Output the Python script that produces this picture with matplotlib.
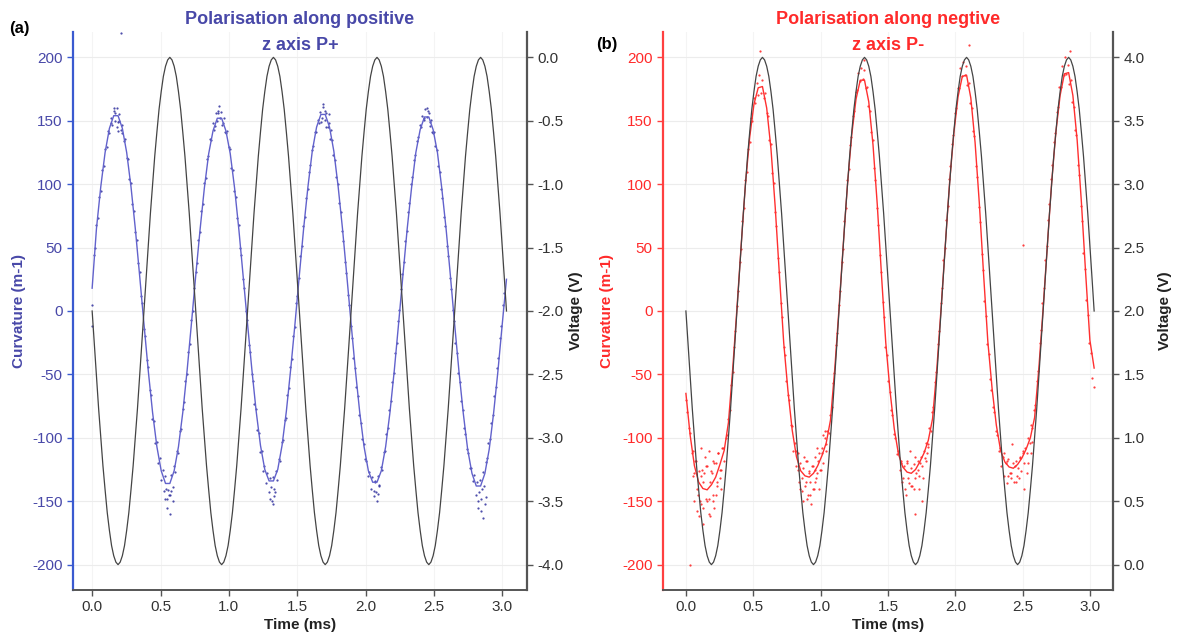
import numpy as np
import matplotlib
matplotlib.use("Agg")
import matplotlib.pyplot as plt

plt.rcParams['font.family'] = ['Liberation Sans', 'DejaVu Sans']
plt.rcParams['axes.unicode_minus'] = False

# ---------------- data ----------------
# sample times of the smooth lines (ms)
LINE_T = np.linspace(0.0, 3.03, 97)
VOLT_T = np.linspace(0.0, 3.03, 193)
DOT_T = np.linspace(0.0, 3.0135, 288)

# (a) voltage (V), black line
volt_a = [
 -2.00,-2.26,-2.52,-2.77,-3.00,-3.22,-3.41,-3.59,-3.73,-3.85,-3.93,-3.98,-4.00,-3.98,-3.93,-3.85,-3.73,-3.59,-3.41,-3.22,-3.00,-2.77,-2.52,-2.26,
 -2.00,-1.74,-1.48,-1.23,-1.00,-0.78,-0.59,-0.41,-0.27,-0.15,-0.07,-0.02,0.00,-0.02,-0.07,-0.15,-0.27,-0.41,-0.59,-0.78,-1.00,-1.23,-1.48,-1.74,
 -2.00,-2.26,-2.52,-2.77,-3.00,-3.22,-3.41,-3.59,-3.73,-3.85,-3.93,-3.98,-4.00,-3.98,-3.93,-3.85,-3.73,-3.59,-3.41,-3.22,-3.00,-2.77,-2.52,-2.26,
 -2.00,-1.74,-1.48,-1.23,-1.00,-0.78,-0.59,-0.41,-0.27,-0.15,-0.07,-0.02,0.00,-0.02,-0.07,-0.15,-0.27,-0.41,-0.59,-0.78,-1.00,-1.23,-1.48,-1.74,
 -2.00,-2.26,-2.52,-2.77,-3.00,-3.22,-3.41,-3.59,-3.73,-3.85,-3.93,-3.98,-4.00,-3.98,-3.93,-3.85,-3.73,-3.59,-3.41,-3.22,-3.00,-2.77,-2.52,-2.26,
 -2.00,-1.74,-1.48,-1.23,-1.00,-0.78,-0.59,-0.41,-0.27,-0.15,-0.07,-0.02,0.00,-0.02,-0.07,-0.15,-0.27,-0.41,-0.59,-0.78,-1.00,-1.23,-1.48,-1.74,
 -2.00,-2.26,-2.52,-2.77,-3.00,-3.22,-3.41,-3.59,-3.73,-3.85,-3.93,-3.98,-4.00,-3.98,-3.93,-3.85,-3.73,-3.59,-3.41,-3.22,-3.00,-2.77,-2.52,-2.26,
 -2.00,-1.74,-1.48,-1.23,-1.00,-0.78,-0.59,-0.41,-0.27,-0.15,-0.07,-0.02,0.00,-0.02,-0.07,-0.15,-0.27,-0.41,-0.59,-0.78,-1.00,-1.23,-1.48,-1.74,
 -2.00]

# (b) voltage (V), black line
volt_b = [
 2.00,1.74,1.48,1.23,1.00,0.78,0.59,0.41,0.27,0.15,0.07,0.02,0.00,0.02,0.07,0.15,0.27,0.41,0.59,0.78,1.00,1.23,1.48,1.74,
 2.00,2.26,2.52,2.77,3.00,3.22,3.41,3.59,3.73,3.85,3.93,3.98,4.00,3.98,3.93,3.85,3.73,3.59,3.41,3.22,3.00,2.77,2.52,2.26,
 2.00,1.74,1.48,1.23,1.00,0.78,0.59,0.41,0.27,0.15,0.07,0.02,0.00,0.02,0.07,0.15,0.27,0.41,0.59,0.78,1.00,1.23,1.48,1.74,
 2.00,2.26,2.52,2.77,3.00,3.22,3.41,3.59,3.73,3.85,3.93,3.98,4.00,3.98,3.93,3.85,3.73,3.59,3.41,3.22,3.00,2.77,2.52,2.26,
 2.00,1.74,1.48,1.23,1.00,0.78,0.59,0.41,0.27,0.15,0.07,0.02,0.00,0.02,0.07,0.15,0.27,0.41,0.59,0.78,1.00,1.23,1.48,1.74,
 2.00,2.26,2.52,2.77,3.00,3.22,3.41,3.59,3.73,3.85,3.93,3.98,4.00,3.98,3.93,3.85,3.73,3.59,3.41,3.22,3.00,2.77,2.52,2.26,
 2.00,1.74,1.48,1.23,1.00,0.78,0.59,0.41,0.27,0.15,0.07,0.02,0.00,0.02,0.07,0.15,0.27,0.41,0.59,0.78,1.00,1.23,1.48,1.74,
 2.00,2.26,2.52,2.77,3.00,3.22,3.41,3.59,3.73,3.85,3.93,3.98,4.00,3.98,3.93,3.85,3.73,3.59,3.41,3.22,3.00,2.77,2.52,2.26,
 2.00]

# (a) curvature fit line (m-1)
curv_a_line = [
 18,65,98,125,144,154,154,144,125,98,65,28,-10,-47,-80,-107,-126,-136,-136,-126,-107,-80,-47,-10,
 28,64,97,124,142,152,152,142,124,97,64,27,-10,-46,-79,-106,-125,-134,-134,-125,-106,-79,-46,-10,
 28,65,98,126,145,155,155,145,126,98,65,28,-10,-47,-80,-107,-126,-135,-135,-126,-107,-80,-47,-10,
 28,65,97,125,143,153,153,143,125,97,65,28,-11,-48,-81,-109,-128,-138,-138,-128,-109,-81,-48,-11,
 25]

# (b) curvature fit line (m-1)
curv_b_line = [
 -65,-98,-122,-135,-140,-141,-137,-131,-121,-110,-88,-46,2,52,100,137,163,176,177,160,128,82,28,-25,
 -63,-94,-115,-126,-130,-131,-128,-122,-114,-104,-86,-46,2,52,100,139,167,182,182,165,131,84,28,-25,
 -63,-93,-113,-123,-127,-128,-125,-119,-112,-102,-85,-46,2,52,101,140,169,185,186,168,133,85,29,-24,
 -61,-90,-110,-119,-123,-124,-121,-116,-109,-100,-84,-45,2,52,101,141,170,187,188,170,135,86,30,-23,
 -45]

# (a) measured curvature points
curv_a_dots = [
 5,44,50,68,73,90,95,111,114,128,129,142,140,152,147,158,150,160,149,155,143,147,134,136,121,120,104,101,84,79,
 62,56,38,31,12,6,-14,-20,-39,-44,-62,-66,-85,-87,-104,-103,-120,-116,-133,-125,-142,-130,-148,-141,-145,-129,-139,-122,-127,-110,
 -112,-95,-93,-77,-72,-55,-50,-32,-26,-7,0,18,
 31,38,56,62,79,84,101,105,120,122,136,135,148,143,156,150,158,152,157,148,152,140,142,129,128,113,111,95,90,73,
 68,50,44,25,18,0,-7,-27,-32,-50,-55,-73,-77,-94,-96,-111,-110,-126,-122,-136,-128,-143,-132,-150,-131,-140,-126,-133,-117,-118,
 -103,-102,-86,-84,-66,-61,-44,-38,-20,-13,6,12,
 26,43,51,67,74,89,96,110,115,127,130,141,141,151,148,157,152,161,151,156,145,148,136,135,123,119,106,100,85,78,
 63,55,39,30,13,5,-12,-21,-37,-45,-60,-67,-82,-88,-101,-105,-117,-118,-130,-127,-140,-131,-146,-134,-143,-130,-137,-123,-125,-111,
 -110,-97,-92,-78,-71,-56,-49,-33,-25,-8,1,17,
 29,39,55,63,78,85,100,106,119,123,134,137,147,145,154,152,159,153,158,149,151,141,141,130,127,114,110,96,89,74,
 67,51,43,26,17,1,-8,-25,-33,-49,-56,-71,-78,-92,-97,-109,-112,-124,-124,-134,-129,-145,-135,-155,-133,-148,-127,-138,-119,-116,
 -104,-101,-88,-82,-67,-60,-45,-37,-21,-12,5,14]

extra_a_t = [0.0, 0.53, 0.55, 0.57, 0.59, 0.56, 1.30, 1.32, 1.34, 2.06, 2.08, 2.10, 2.82, 2.84, 2.86, 2.88, 2.85,
             0.16, 0.18, 0.20, 0.93, 0.95, 1.69, 1.71, 1.73, 2.45, 2.47, 0.21,
             0.14, 0.17, 0.19, 0.22, 0.90, 0.92, 0.97, 1.67, 1.70, 1.75, 2.43, 2.46, 2.49,
             0.54, 0.58, 1.31, 1.33, 2.07, 2.09, 2.83, 2.87]
extra_a_v = [-12, -148, -155, -160, -150, -145, -148, -152, -143, -142, -150, -138, -150, -158, -163, -147, -140,
             160, 145, 150, 162, 147, 163, 145, 155, 160, 146, 219,
             148, 156, 142, 140, 146, 156, 141, 149, 158, 143, 151, 156, 140,
             -140, -142, -139, -146, -135, -144, -143, -152]

# (b) measured curvature points
curv_b_dots = [
 -70,-80,-92,-96,-112,-110,-128,-118,-140,-126,-150,-130,-155,-128,-148,-122,-160,-135,-126,-150,-120,-145,-138,-112,-132,-125,-108,-118,-100,-98,
 -85,-78,-58,-48,-28,-16,4,16,39,49,71,81,103,110,128,133,152,150,168,164,180,170,186,172,182,168,172,156,154,135,
 132,109,101,78,67,42,31,6,-5,-28,-35,-55,
 -66,-70,-90,-91,-110,-104,-122,-112,-135,-120,-142,-124,-138,-118,-145,-126,-135,-122,-140,-115,-132,-128,-112,-125,-108,-120,-100,-110,-95,-96,
 -82,-76,-57,-49,-27,-17,5,16,39,49,71,81,103,112,131,137,154,158,173,174,188,181,192,183,190,176,177,162,158,141,
 135,113,103,81,68,44,31,7,-5,-28,-35,-55,
 -64,-78,-82,-97,-100,-113,-110,-125,-118,-135,-122,-140,-120,-132,-136,-124,-138,-121,-132,-128,-118,-130,-115,-122,-110,-116,-104,-107,-92,-95,
 -80,-76,-56,-48,-26,-16,6,18,40,50,72,83,104,114,132,139,156,160,176,176,192,185,196,186,193,178,180,164,160,142,
 138,114,106,82,70,45,32,8,-4,-26,-34,-54,
 -62,-76,-80,-95,-98,-110,-108,-122,-115,-130,-120,-136,-117,-128,-132,-120,-135,-118,-130,-124,-116,-126,-112,-120,-108,-112,-100,-104,-90,-92,
 -78,-74,-55,-47,-25,-15,6,18,40,51,72,84,104,115,133,140,157,161,177,177,193,186,200,187,194,179,182,165,161,143,
 139,115,107,83,71,46,33,9,-3,-25,-33,-53]

extra_b_t = [0.03, 0.06, 0.08, 0.10, 0.12, 0.14, 0.16, 0.18, 0.20, 0.22, 0.24, 0.26, 0.13,
             0.82, 0.85, 0.87, 0.90, 0.92, 0.95, 0.97, 1.00, 1.02, 1.04, 0.93,
             1.60, 1.63, 1.66, 1.69, 1.72, 1.75, 1.78, 1.80, 1.70,
             2.36, 2.39, 2.42, 2.45, 2.48, 2.51, 2.54, 2.57, 2.50,
             0.55, 1.32, 2.10, 2.85, 3.03,
             0.05, 0.07, 0.09, 0.11, 0.13, 0.15, 0.17, 0.19, 0.21, 0.23, 0.25, 0.27, 0.11, 0.17, 0.20,
             0.83, 0.86, 0.88, 0.89, 0.91, 0.94, 0.96, 0.98, 0.99, 1.01, 1.03, 0.90, 0.96,
             1.61, 1.64, 1.67, 1.70, 1.73, 1.74, 1.76, 1.79,
             2.38, 2.41, 2.44, 2.47, 2.50, 2.53, 2.56]
extra_b_v = [-200, -150, -158, -162, -125, -115, -150, -162, -145, -120, -112, -140, -168,
             -110, -140, -150, -118, -145, -140, -108, -125, -98, -105, -152,
             -120, -145, -110, -140, -125, -150, -118, -105, -160,
             -112, -130, -105, -135, -115, -140, -120, -103, 52,
             205, 198, 210, 205, -60,
             -130, -118, -145, -108, -135, -122, -110, -128, -155, -135, -125, -108, -152, -148, -118,
             -125, -132, -115, -135, -128, -122, -135, -118, -140, -112, -95, -148, -125,
             -132, -118, -138, -115, -140, -120, -132, -112,
             -118, -128, -122, -132, -110, -128, -112]

curv_ticks = [-200, -150, -100, -50, 0, 50, 100, 150, 200]
time_ticks = [0.0, 0.5, 1.0, 1.5, 2.0, 2.5, 3.0]
volt_ticks_a = [0.0, -0.5, -1.0, -1.5, -2.0, -2.5, -3.0, -3.5, -4.0]
volt_ticks_b = [0.0, 0.5, 1.0, 1.5, 2.0, 2.5, 3.0, 3.5, 4.0]

# ---------------- figure ----------------
W, H = 1181, 635
fig = plt.figure(figsize=(W / 100, H / 100), dpi=100)

BLUE_TXT = '#4848a8'
BLUE_SP = '#3a5ad0'
RED = '#ff2a2a'
GREY = '#555555'


def panel(left_px, right_px, xlim, col_txt, col_sp, line_col, dot_col,
          cline, cdots, ext_t, ext_v, volt, vlim, vticks, title, tag, tag_xy,
          lab_left, lab_right):
    ax = fig.add_axes([left_px / W, 1 - 590 / H, (right_px - left_px) / W, 558 / H])
    ax.set_xlim(*xlim)
    ax.set_ylim(-220, 220)
    ax.set_yticks(curv_ticks)
    ax.set_yticklabels([str(v) for v in curv_ticks])
    ax.set_xticks(time_ticks)
    ax.set_xticklabels(['%.1f' % v for v in time_ticks])
    ax.grid(True, axis='y', color='#ececec', lw=0.8)
    ax.grid(True, axis='x', color='#f4f4f4', lw=0.8)
    ax.set_axisbelow(True)
    for s in ['top', 'right']:
        ax.spines[s].set_visible(False)
    ax.spines['left'].set_color(col_sp)
    ax.spines['left'].set_linewidth(1.6)
    ax.spines['bottom'].set_color(GREY)
    ax.spines['bottom'].set_linewidth(1.4)
    ax.tick_params(axis='y', colors=col_sp, labelcolor=col_txt, labelsize=11,
                   length=4, width=1, direction='out')
    ax.tick_params(axis='x', colors=GREY, labelcolor='#333333', labelsize=11,
                   length=4, width=1, direction='out')
    ax.set_ylabel('Curvature (m-1)', color=col_txt, fontsize=11, fontweight='bold')
    ax.yaxis.set_label_coords(lab_left, 0.5)
    ax.set_xlabel('Time (ms)', fontsize=11, fontweight='bold', color='#222222')
    ax.xaxis.set_label_coords(0.5, -0.05)

    ax.scatter(DOT_T, cdots, s=2.6, color=dot_col, linewidths=0, alpha=0.85, zorder=3)
    ax.scatter(ext_t, ext_v, s=2.6, color=dot_col, linewidths=0, alpha=0.85, zorder=3)
    ax.plot(LINE_T, cline, color=line_col, lw=1.0, zorder=4)

    ax2 = ax.twinx()
    ax2.set_ylim(*vlim)
    ax2.set_yticks(vticks)
    ax2.set_yticklabels(['%.1f' % v for v in vticks])
    for s in ['top', 'left', 'bottom']:
        ax2.spines[s].set_visible(False)
    ax2.spines['right'].set_color(GREY)
    ax2.spines['right'].set_linewidth(1.6)
    ax2.tick_params(axis='y', colors=GREY, labelcolor='#333333', labelsize=11,
                    length=4, width=1, direction='out')
    ax2.plot(VOLT_T, volt, color='#444444', lw=0.9, zorder=5)
    ax2.set_ylabel('Voltage (V)', fontsize=11, fontweight='bold', color='#222222')
    ax2.yaxis.set_label_coords(lab_right, 0.5)

    cx = (left_px + right_px) / 2 / W
    fig.text(cx, 1 - 20 / H, title[0], ha='center', va='center', color=col_txt,
             fontsize=13, fontweight='bold')
    fig.text(cx, 1 - 45 / H, title[1], ha='center', va='center', color=col_txt,
             fontsize=13, fontweight='bold')
    fig.text(tag_xy[0] / W, 1 - tag_xy[1] / H, tag, ha='left', va='center',
             fontsize=12, fontweight='bold', color='black')
    return ax, ax2


panel(73, 527, (-0.14, 3.18), BLUE_TXT, BLUE_SP, '#6262cc', '#30309e',
      curv_a_line, curv_a_dots, extra_a_t, extra_a_v, volt_a, (-4.2, 0.2), volt_ticks_a,
      ('Polarisation along positive', 'z axis P+'), '(a)', (9, 28), -0.103, 1.093)

panel(663, 1113, (-0.17, 3.17), RED, '#ff4040', '#ff3030', '#ff2020',
      curv_b_line, curv_b_dots, extra_b_t, extra_b_v, volt_b, (-0.2, 4.2), volt_ticks_b,
      ('Polarisation along negtive', 'z axis P-'), '(b)', (596, 45), -0.11, 1.10)

fig.savefig('out.png', dpi=100)
